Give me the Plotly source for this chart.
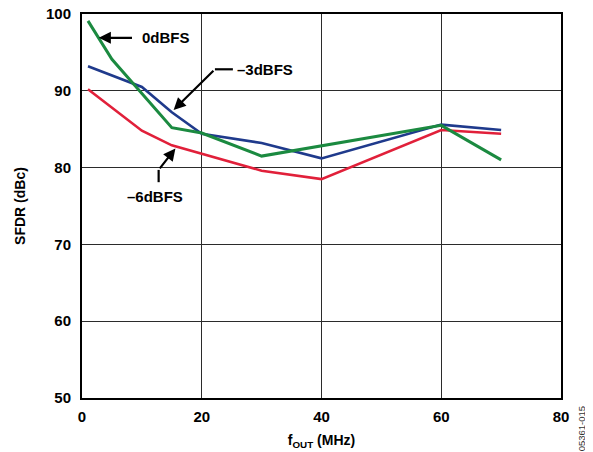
import plotly.graph_objects as go

# ---- data ----
f_0dbfs = [1, 5, 15, 20, 30, 60, 70]
sfdr_0dbfs = [99.1, 94.1, 85.2, 84.5, 81.5, 85.5, 81.0]

f_3dbfs = [1, 10, 15, 20, 30, 40, 60, 70]
sfdr_3dbfs = [93.2, 90.5, 87.2, 84.4, 83.2, 81.2, 85.6, 84.9]

f_6dbfs = [1, 10, 15, 20, 30, 40, 60, 70]
sfdr_6dbfs = [90.2, 84.8, 82.9, 81.8, 79.6, 78.5, 84.9, 84.4]

x_ticks = [0, 20, 40, 60, 80]
y_ticks = [50, 60, 70, 80, 90, 100]

GREEN = "#1B8A40"
BLUE = "#1F3A8C"
RED = "#E1203A"
FONT = "Liberation Sans, Arial, Helvetica, sans-serif"

fig = go.Figure()
fig.add_trace(go.Scatter(x=f_3dbfs, y=sfdr_3dbfs, mode="lines",
                         line=dict(color=BLUE, width=2.6), name="-3dBFS"))
fig.add_trace(go.Scatter(x=f_6dbfs, y=sfdr_6dbfs, mode="lines",
                         line=dict(color=RED, width=2.6), name="-6dBFS"))
fig.add_trace(go.Scatter(x=f_0dbfs, y=sfdr_0dbfs, mode="lines",
                         line=dict(color=GREEN, width=3), name="0dBFS"))

axis_common = dict(
    showgrid=True, gridcolor="#2b2b2b", gridwidth=1.4,
    showline=True, linecolor="black", linewidth=2, mirror=True,
    zeroline=False, ticks="", automargin=False, ticklabeloverflow="allow",
    tickfont=dict(family=FONT, size=15, color="black", weight="bold"),
)
fig.update_xaxes(range=[0, 80], tickvals=x_ticks, ticklabelstandoff=4,
                 title=dict(text="f<sub>OUT</sub> (MHz)", standoff=11,
                            font=dict(family=FONT, size=14, color="#000000", weight="bold")),
                 **axis_common)
fig.update_yaxes(range=[50, 100], tickvals=y_ticks, ticklabelstandoff=6,
                 title=dict(text="SFDR (dBc)", standoff=17,
                            font=dict(family=FONT, size=14, color="#000000", weight="bold")),
                 **axis_common)

ann_font = dict(family=FONT, size=15, color="black", weight="bold")
annotations = [
    # 0dBFS
    dict(x=2.8, y=96.9, ax=8.6, ay=96.9, axref="x", ayref="y", text="",
         showarrow=True, arrowhead=2, arrowsize=1.1, arrowwidth=2.2, arrowcolor="black", standoff=0),
    dict(x=9.7, y=96.9, text="0dBFS", showarrow=False, xanchor="left", yanchor="middle", font=ann_font),
    # -3dBFS
    dict(x=15.3, y=87.5, ax=22.2, ay=92.8, axref="x", ayref="y", text="",
         showarrow=True, arrowhead=2, arrowsize=1.1, arrowwidth=2.2, arrowcolor="black", standoff=0),
    dict(x=25.5, y=92.8, text="\u20133dBFS", showarrow=False, xanchor="left", yanchor="middle", font=ann_font),
    # -6dBFS
    dict(x=15.6, y=82.5, ax=12.8, ay=79.7, axref="x", ayref="y", text="",
         showarrow=True, arrowhead=2, arrowsize=1.1, arrowwidth=2.2, arrowcolor="black", standoff=0),
    dict(x=12.2, y=76.2, text="\u20136dBFS", showarrow=False, xanchor="center", yanchor="middle", font=ann_font),
    # figure id
    dict(xref="paper", yref="paper", x=1.043, y=-0.08, text="05361-015", textangle=-90,
         showarrow=False, xanchor="center", yanchor="middle",
         font=dict(family=FONT, size=9.5, color="#333333")),
]

shapes = [
    dict(type="line", xref="x", yref="y", x0=22.2, y0=92.8, x1=25.2, y1=92.8,
         line=dict(color="black", width=2.2)),
    dict(type="line", xref="x", yref="y", x0=12.8, y0=79.7, x1=12.8, y1=78.1,
         line=dict(color="black", width=2.2)),
]

fig.update_layout(
    width=585, height=444,
    margin=dict(l=74, r=32, t=6, b=54, autoexpand=False),
    paper_bgcolor="white", plot_bgcolor="white",
    showlegend=False,
    annotations=annotations,
    shapes=shapes,
    font=dict(family=FONT, color="black"),
)

fig.write_html("out.html")
